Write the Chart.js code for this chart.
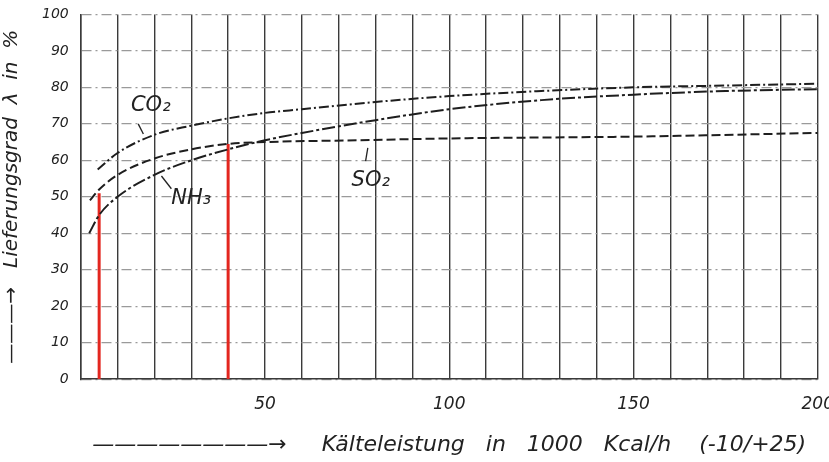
<!DOCTYPE html>
<html>
<head>
<meta charset="utf-8">
<script src="https://cdn.jsdelivr.net/npm/chart.js@4/dist/chart.umd.min.js"></script>
<style>
  html, body { margin: 0; padding: 0; background: #fff; overflow: hidden; }
  #wrap { width: 849px; height: 468px; margin-top: -6px; }
</style>
</head>
<body>
<div id="wrap"><canvas id="chart"></canvas></div>
<script>
// x: Kälteleistung in 1000 Kcal/h, y: Liefergrad in %
const co2X = [4.6, 10, 20, 30, 40, 50, 60, 80, 100, 125, 150, 175, 200];
const co2Y = [57.5, 62, 67, 69.5, 71.5, 73, 74, 76, 77.6, 79, 80, 80.5, 81];
const nh3X = [2.3, 5, 10, 20, 30, 40, 50, 60, 80, 100, 125, 150, 175, 200];
const nh3Y = [40, 45, 50, 56, 60, 63, 65.5, 67.5, 71, 74, 76.5, 78, 79, 79.5];
const so2X = [2.5, 5, 10, 20, 30, 40, 50, 75, 100, 150, 200];
const so2Y = [49, 52, 56, 60.5, 63, 64.5, 65, 65.5, 66, 66.5, 67.5];
const redX = [5, 40];
const redY = [51, 64.5];
const xTicks = [50, 100, 150, 200];
const yTicks = [0, 10, 20, 30, 40, 50, 60, 70, 80, 90, 100];

const pts = (xs, ys) => xs.map((x, i) => ({ x: x, y: ys[i] }));

const curve = (label, xs, ys, dash) => ({
  label: label,
  data: pts(xs, ys),
  showLine: true,
  borderColor: '#1e1e1e',
  borderWidth: 2,
  borderDash: dash,
  pointRadius: 0,
  cubicInterpolationMode: 'monotone'
});

const redLines = redX.map((x, i) => ({
  label: 'mark' + i,
  data: [{ x: x, y: 0 }, { x: x, y: redY[i] }],
  showLine: true,
  borderColor: '#e3261f',
  borderWidth: 3,
  pointRadius: 0
}));

// handwritten curve labels with little leader strokes
const curveLabels = {
  id: 'curveLabels',
  afterDatasetsDraw(chart) {
    const { ctx, scales: { x, y } } = chart;
    const notes = [
      { t: 'CO₂', at: [19, 75], lead: [[15.6, 70], [17, 67.2]] },
      { t: 'NH₃', at: [30, 49.5], lead: [[21.9, 55.7], [24.6, 52.2]] },
      { t: 'SO₂', at: [78.7, 54.4], lead: [[77.9, 63.4], [77.3, 59.8]] }
    ];
    ctx.save();
    ctx.fillStyle = '#222';
    ctx.strokeStyle = '#222';
    ctx.lineWidth = 1.3;
    ctx.font = 'italic 21px "DejaVu Sans"';
    ctx.textAlign = 'center';
    ctx.textBaseline = 'middle';
    notes.forEach(n => {
      ctx.fillText(n.t, x.getPixelForValue(n.at[0]), y.getPixelForValue(n.at[1]));
      ctx.beginPath();
      ctx.moveTo(x.getPixelForValue(n.lead[0][0]), y.getPixelForValue(n.lead[0][1]));
      ctx.lineTo(x.getPixelForValue(n.lead[1][0]), y.getPixelForValue(n.lead[1][1]));
      ctx.stroke();
    });
    ctx.restore();
  }
};

new Chart(document.getElementById('chart'), {
  type: 'scatter',
  data: {
    datasets: [
      curve('CO2', co2X, co2Y, [10, 3, 2, 3]),
      curve('NH3', nh3X, nh3Y, [13, 3, 3, 3]),
      curve('SO2', so2X, so2Y, [9, 4]),
      ...redLines
    ]
  },
  options: {
    responsive: true,
    maintainAspectRatio: false,
    animation: false,
    layout: { padding: { top: 2, right: 0, bottom: 4, left: 0 } },
    plugins: { legend: { display: false }, tooltip: { enabled: false } },
    scales: {
      x: {
        type: 'linear',
        min: 0,
        max: 200,
        afterBuildTicks: s => {
          s.ticks = [];
          for (let v = 0; v <= 200; v += 10) s.ticks.push({ value: v });
        },
        ticks: {
          autoSkip: false,
          maxRotation: 0,
          padding: 15,
          color: '#222',
          font: { family: 'DejaVu Sans', style: 'italic', size: 17 },
          callback: v => xTicks.includes(v) ? String(v) : ''
        },
        grid: { color: '#3a3a3a', lineWidth: 1.4, drawTicks: false },
        border: { display: true, color: '#3a3a3a', width: 1.5 },
        title: {
          display: true,
          text: '————————→     Kälteleistung   in   1000   Kcal/h    (-10/+25)',
          color: '#222',
          font: { family: 'DejaVu Sans', style: 'italic', size: 22 },
          padding: { top: 2, bottom: 0 }
        }
      },
      y: {
        min: 0,
        max: 100,
        afterBuildTicks: s => { s.ticks = yTicks.map(v => ({ value: v })); },
        ticks: {
          padding: 12,
          color: '#222',
          font: { family: 'DejaVu Sans', style: 'italic', size: 14 }
        },
        grid: { color: '#9a9a9a', lineWidth: 1.2, drawTicks: false },
        border: { display: true, color: '#3a3a3a', width: 1.5, dash: [10, 4, 2, 4] },
        title: {
          display: true,
          text: '———→   Lieferungsgrad  λ  in  %',
          color: '#222',
          font: { family: 'DejaVu Sans', style: 'italic', size: 20 },
          padding: { top: 0, bottom: 6 }
        }
      }
    }
  },
  plugins: [curveLabels]
});
</script>
</body>
</html>
